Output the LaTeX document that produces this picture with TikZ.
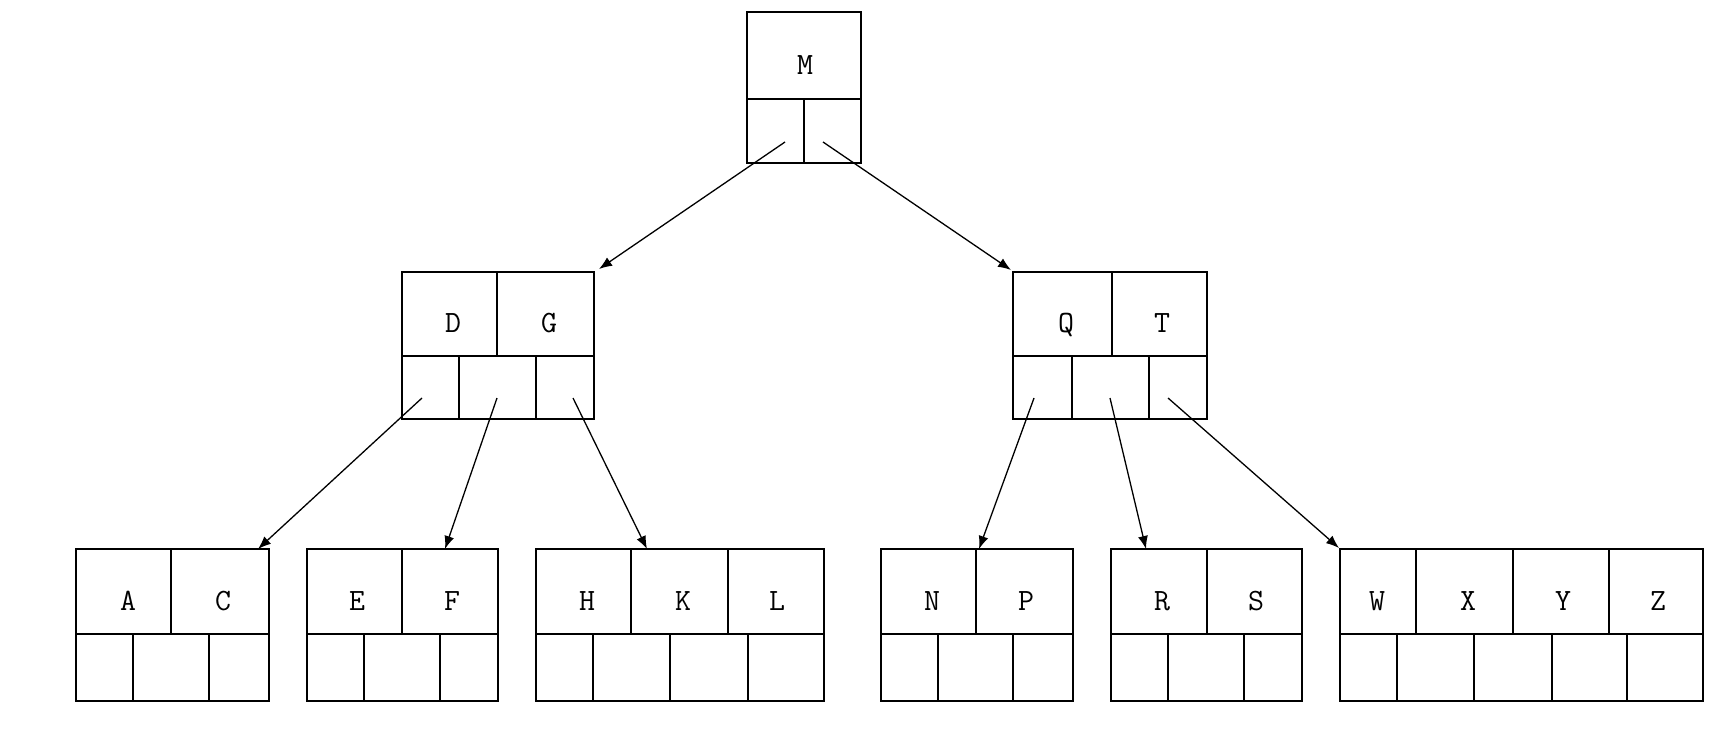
\documentclass[tikz,border=0pt]{standalone}
\usepackage{fontspec}
\usetikzlibrary{arrows.meta}

% A B-tree node: outer frame, key row over pointer row, with dividers.
% #1 name, #2 left, #3 right, #4 top, #5 row split, #6 bottom,
% #7 key dividers, #8 pointer dividers
\newcommand{\btnode}[8]{%
  \node[nodebox, minimum width={#3-#2}, minimum height={#6-#4}] (#1) at (#2,#4) {};
  \draw[cellrule] (#2,#5) -- (#3,#5);
  \foreach \xx in {#7} {\draw[cellrule] (\xx,#4) -- (\xx,#5);}
  \foreach \xx in {#8} {\draw[cellrule] (\xx,#5) -- (\xx,#6);}
}

\begin{document}
\begin{tikzpicture}[x=1pt, y=-1pt,
  nodebox/.style={draw, line width=1.6pt, inner sep=0pt, outer sep=0pt, anchor=north west},
  cellrule/.style={line width=1.6pt},
  letter/.style={anchor=base, inner sep=0pt, font=\fontsize{31}{31}\selectfont\ttfamily},
  ptr/.style={line width=1.3pt, -{Latex[length=13pt, width=10pt]}}]

  \useasboundingbox[fill=white] (0,0) rectangle (1728,738);

  % root
  \btnode{m}{747}{861}{12}{99}{163}{}{804}
  % second level
  \btnode{dg}{402}{594}{272}{356}{419}{497}{459,536}
  \btnode{qt}{1013}{1207}{272}{356}{419}{1112}{1072,1149}
  % leaves
  \btnode{ac}{76}{269}{549}{634}{701}{171}{133,209}
  \btnode{ef}{307}{498}{549}{634}{701}{402}{364,440}
  \btnode{hkl}{536}{824}{549}{634}{701}{631,728}{593,670,748}
  \btnode{np}{881}{1073}{549}{634}{701}{976}{938,1013}
  \btnode{rs}{1111}{1302}{549}{634}{701}{1207}{1168,1244}
  \btnode{wxyz}{1340}{1703}{549}{634}{701}{1416,1513,1609}{1397,1474,1552,1627}

  % keys
  \node[letter] (kM) at (805,75) {M};
  \node[letter] (kD) at (453,332) {D};
  \node[letter] (kG) at (549,332) {G};
  \node[letter] (kQ) at (1066,332) {Q};
  \node[letter] (kT) at (1162,332) {T};
  \node[letter] (kA) at (128,610) {A};
  \node[letter] (kC) at (223,610) {C};
  \node[letter] (kE) at (357,610) {E};
  \node[letter] (kF) at (452,610) {F};
  \node[letter] (kH) at (587,610) {H};
  \node[letter] (kK) at (683,610) {K};
  \node[letter] (kL) at (777,610) {L};
  \node[letter] (kN) at (932,610) {N};
  \node[letter] (kP) at (1026,610) {P};
  \node[letter] (kR) at (1162,610) {R};
  \node[letter] (kS) at (1256,610) {S};
  \node[letter] (kW) at (1377,610) {W};
  \node[letter] (kX) at (1468,610) {X};
  \node[letter] (kY) at (1563,610) {Y};
  \node[letter] (kZ) at (1658,610) {Z};

  % pointer origins inside the pointer cells
  \coordinate (m-p0) at (785,142);
  \coordinate (m-p1) at (823,142);
  \coordinate (dg-p0) at (422,398);
  \coordinate (dg-p1) at (497,398);
  \coordinate (dg-p2) at (573,398);
  \coordinate (qt-p0) at (1034,398);
  \coordinate (qt-p1) at (1110,398);
  \coordinate (qt-p2) at (1168,398);

  % entry points on the children
  \coordinate (dg-in) at (599,269);
  \coordinate (qt-in) at (1011,270);
  \coordinate (ac-in) at (258,549);
  \coordinate (ef-in) at (445,549);
  \coordinate (hkl-in) at (647,549);
  \coordinate (np-in) at (979,549);
  \coordinate (rs-in) at (1146,549);
  \coordinate (wxyz-in) at (1339,548);

  % child pointers
  \draw[ptr] (m-p0) -- (dg-in);
  \draw[ptr] (m-p1) -- (qt-in);
  \draw[ptr] (dg-p0) -- (ac-in);
  \draw[ptr] (dg-p1) -- (ef-in);
  \draw[ptr] (dg-p2) -- (hkl-in);
  \draw[ptr] (qt-p0) -- (np-in);
  \draw[ptr] (qt-p1) -- (rs-in);
  \draw[ptr] (qt-p2) -- (wxyz-in);
\end{tikzpicture}
\end{document}
